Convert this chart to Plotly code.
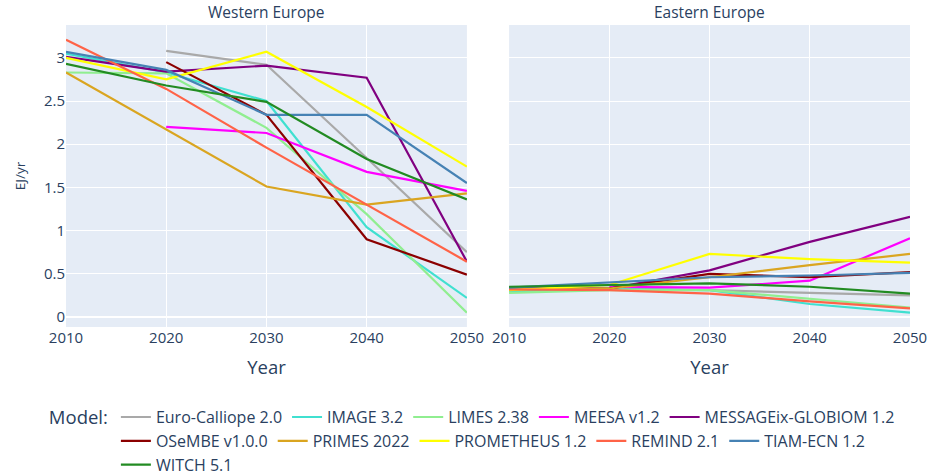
import pandas as pd
import plotly.express as px

years = [2010, 2020, 2030, 2040, 2050]
regions = ["Western Europe", "Eastern Europe"]

models = [
    "Euro-Calliope 2.0", "IMAGE 3.2", "LIMES 2.38", "MEESA v1.2",
    "MESSAGEix-GLOBIOM 1.2", "OSeMBE v1.0.0", "PRIMES 2022",
    "PROMETHEUS 1.2", "REMIND 2.1", "TIAM-ECN 1.2", "WITCH 5.1",
]

model_colors = {
    "Euro-Calliope 2.0": "darkgray",
    "IMAGE 3.2": "turquoise",
    "LIMES 2.38": "lightgreen",
    "MEESA v1.2": "magenta",
    "MESSAGEix-GLOBIOM 1.2": "purple",
    "OSeMBE v1.0.0": "darkred",
    "PRIMES 2022": "goldenrod",
    "PROMETHEUS 1.2": "yellow",
    "REMIND 2.1": "tomato",
    "TIAM-ECN 1.2": "steelblue",
    "WITCH 5.1": "forestgreen",
}

# EJ/yr per model, Western Europe
western = {
    "Euro-Calliope 2.0": [None, 3.08, 2.92, 1.84, 0.75],
    "IMAGE 3.2": [3.05, 2.83, 2.50, 1.04, 0.22],
    "LIMES 2.38": [2.83, 2.82, 2.19, 1.19, 0.05],
    "MEESA v1.2": [None, 2.20, 2.13, 1.68, 1.46],
    "MESSAGEix-GLOBIOM 1.2": [3.01, 2.84, 2.91, 2.77, 0.64],
    "OSeMBE v1.0.0": [None, 2.95, 2.34, 0.90, 0.49],
    "PRIMES 2022": [2.83, 2.17, 1.51, 1.30, 1.43],
    "PROMETHEUS 1.2": [3.00, 2.75, 3.07, 2.43, 1.74],
    "REMIND 2.1": [3.21, 2.64, 1.96, 1.30, 0.64],
    "TIAM-ECN 1.2": [3.07, 2.86, 2.34, 2.34, 1.55],
    "WITCH 5.1": [2.93, 2.68, 2.49, 1.83, 1.36],
}

# EJ/yr per model, Eastern Europe
eastern = {
    "Euro-Calliope 2.0": [None, 0.33, 0.31, 0.28, 0.25],
    "IMAGE 3.2": [0.30, 0.32, 0.31, 0.15, 0.05],
    "LIMES 2.38": [0.28, 0.31, 0.31, 0.21, 0.11],
    "MEESA v1.2": [None, 0.35, 0.34, 0.42, 0.91],
    "MESSAGEix-GLOBIOM 1.2": [0.33, 0.33, 0.54, 0.87, 1.16],
    "OSeMBE v1.0.0": [None, 0.33, 0.50, 0.46, 0.52],
    "PRIMES 2022": [0.32, 0.33, 0.46, 0.60, 0.73],
    "PROMETHEUS 1.2": [0.31, 0.37, 0.73, 0.67, 0.63],
    "REMIND 2.1": [0.32, 0.31, 0.27, 0.18, 0.10],
    "TIAM-ECN 1.2": [0.34, 0.40, 0.46, 0.48, 0.51],
    "WITCH 5.1": [0.35, 0.37, 0.39, 0.35, 0.27],
}

# Build a long table for plotly express
rows = []
for region, table in zip(regions, [western, eastern]):
    for model in models:
        for year, value in zip(years, table[model]):
            if value is not None:
                rows.append({"Region": region, "Model": model, "Year": year, "Value": value})
df = pd.DataFrame(rows)

fig = px.line(
    df,
    x="Year",
    y="Value",
    color="Model",
    facet_col="Region",
    facet_col_spacing=0.05,
    category_orders={"Region": regions, "Model": models},
    color_discrete_map=model_colors,
)

fig.update_traces(line_width=2.2)
fig.for_each_annotation(lambda a: a.update(text=a.text.split("=")[-1], font_size=15.5))

fig.update_xaxes(
    title_text="Year",
    title_font_size=18.5,
    tickfont_size=15,
    range=[2010, 2050],
    dtick=10,
)
fig.update_yaxes(title_text="", tickfont_size=15, range=[-0.116, 3.38], dtick=0.5)
fig.update_yaxes(title_text="EJ/yr", title_font_size=13.5, col=1)

fig.update_layout(
    width=932,
    height=476,
    margin=dict(l=66, r=22, t=25, b=149, autoexpand=False),
    legend=dict(
        orientation="h",
        x=0.988,
        xanchor="right",
        y=-0.242,
        yanchor="top",
        font_size=16,
        title=dict(text="Model:", font_size=18.5),
        tracegroupgap=0,
    ),
)

# drop the default page margin so the figure fills the window
fig.write_html(
    "out.html",
    config={"displayModeBar": False},
    post_script="document.body.style.margin = '0';",
)
